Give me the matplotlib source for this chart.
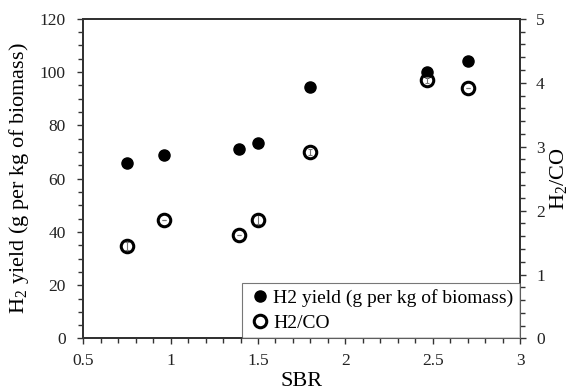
import matplotlib
matplotlib.use("Agg")
import matplotlib.pyplot as plt
from matplotlib.ticker import MultipleLocator

plt.rcParams["font.family"] = ["Liberation Serif", "DejaVu Serif"]
plt.rcParams["mathtext.fontset"] = "custom"
plt.rcParams["mathtext.rm"] = "Liberation Serif"
plt.rcParams["mathtext.it"] = "Liberation Serif:italic"

# steam-to-biomass ratio
sbr = [0.75, 0.96, 1.39, 1.50, 1.80, 2.47, 2.70]
h2_yield = [66.0, 68.9, 71.0, 73.5, 94.4, 100.0, 104.1]   # g per kg of biomass
h2_co = [1.45, 1.85, 1.62, 1.86, 2.92, 4.04, 3.92]
h2_co_err = [0.06, 0.0, 0.0, 0.07, 0.05, 0.05, 0.0]

edge = "#333333"

fig = plt.figure(figsize=(5.72, 3.91), dpi=100)
ax = fig.add_axes([0.1456, 0.1343, 0.7635, 0.8177])
ax2 = ax.twinx()

ax.plot(sbr, h2_yield, "o", color="black", ms=8, label="H2 yield (g per kg of biomass)",
        zorder=3)
ax2.errorbar(sbr, h2_co, yerr=h2_co_err, fmt="none", ecolor="#777777", elinewidth=0.8,
             capsize=1.5, capthick=0.8, zorder=2)
ax2.plot(sbr, h2_co, "o", mfc="none", mec="black", mew=2.2, ms=9, label="H2/CO", zorder=3)

ax.set_xlim(0.5, 3)
ax.set_ylim(0, 120)
ax2.set_ylim(0, 5)

ax.xaxis.set_major_locator(MultipleLocator(0.5))
ax.xaxis.set_minor_locator(MultipleLocator(0.1))
ax.yaxis.set_major_locator(MultipleLocator(20))
ax.yaxis.set_minor_locator(MultipleLocator(5))
ax2.yaxis.set_major_locator(MultipleLocator(1))
ax2.yaxis.set_minor_locator(MultipleLocator(0.2))
ax.set_xticks([0.5, 1, 1.5, 2, 2.5, 3])
ax.set_xticklabels(["0.5", "1", "1.5", "2", "2.5", "3"])

for a in (ax, ax2):
    for s in a.spines.values():
        s.set_linewidth(1.4)
        s.set_color(edge)
    a.tick_params(which="both", direction="out", colors=edge, labelcolor="#222222",
                  labelsize=12.5, width=1.0)
    a.tick_params(which="major", length=4.5)
    a.tick_params(which="minor", length=3.5)
ax.tick_params(axis="y", which="both", right=False, pad=8)
ax.tick_params(axis="x", which="both", pad=6)
ax2.tick_params(axis="y", which="both", pad=7)

ax.set_xlabel("SBR", fontsize=16, labelpad=2)
ax.set_ylabel("H$_2$ yield (g per kg of biomass)", fontsize=16, labelpad=6)
ax2.set_ylabel("H$_2$/CO", fontsize=16, labelpad=2)

h1, l1 = ax.get_legend_handles_labels()
h2, l2 = ax2.get_legend_handles_labels()
leg = ax2.legend(h1 + h2, l1 + l2, loc="lower right", borderaxespad=0, fontsize=14,
                 frameon=True, fancybox=False, handletextpad=0.05, handlelength=1.2,
                 borderpad=0.35, labelspacing=0.35)
leg.get_frame().set_edgecolor("#555555")
leg.get_frame().set_linewidth(0.8)

fig.savefig("out.png", dpi=100)
